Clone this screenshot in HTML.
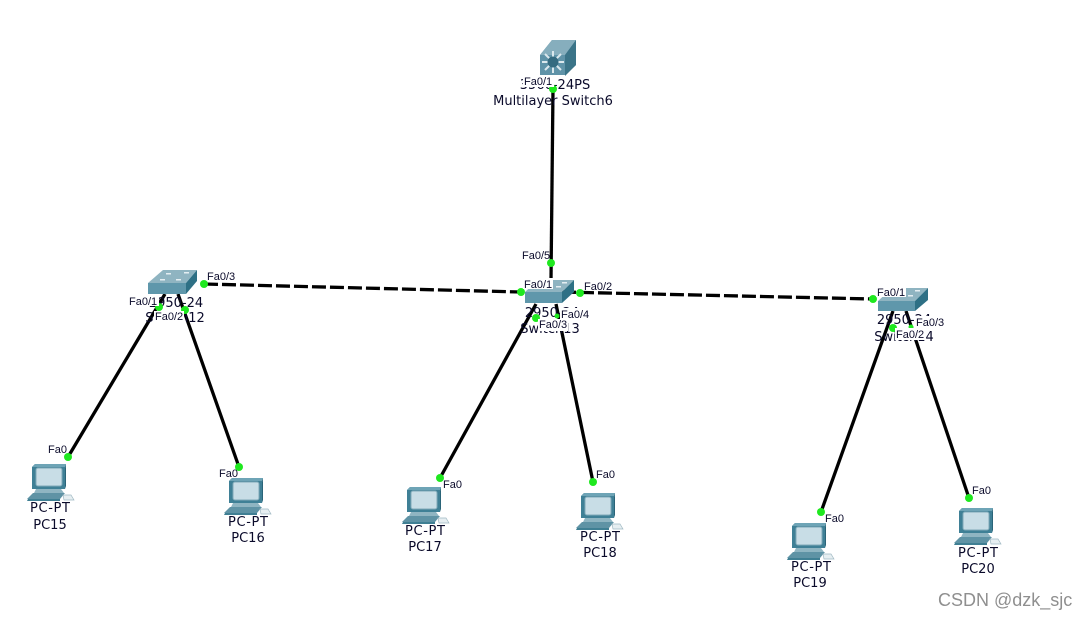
<!DOCTYPE html>
<html><head><meta charset="utf-8"><style>
html,body{margin:0;padding:0;background:#fff;width:1087px;height:620px;overflow:hidden}
svg{display:block}
text{font-family:"DejaVu Sans",sans-serif;fill:#0a0a2a}
.n{font-size:13px;text-anchor:middle}
.p{font-family:"Liberation Sans",sans-serif;font-size:11px}
</style></head><body>
<svg width="1087" height="620" viewBox="0 0 1087 620" xmlns="http://www.w3.org/2000/svg">
<defs>
<g id="pc">
<path d="M5 4L8 1H39L38 5V26H5Z" fill="#3f8096"/>
<path d="M38 5L39 1V23L38 26Z" fill="#2a6478"/>
<path d="M5 4L8 1H39L38 4Z" fill="#6ea4b6"/>
<rect x="9" y="5" width="26" height="18" rx="2" fill="#c8dde6" stroke="#7fa9b8"/>
<path d="M9 26H34L37 30H7Z" fill="#8fb5c2"/>
<path d="M0 36L6 30H38L33 36Z" fill="#5f93a5"/>
<path d="M1 36H33V38H0Z" fill="#3f7f93"/>
<path d="M36 32H44L47 37H37Z" fill="#e6eef1" stroke="#9fb8c2" stroke-width=".7"/>
</g>
</defs>

<g stroke="#000" stroke-width="3.3" fill="none">
<path d="M553 89L551 280"/>
<path d="M204 284L521 292" stroke-dasharray="14 4"/>
<path d="M562 292L873 299" stroke-dasharray="14 4"/>
<path d="M165 294L68 457"/>
<path d="M178 294L239 467"/>
<path d="M536 304L440 478"/>
<path d="M556 304L593 482"/>
<path d="M893 311L821 512"/>
<path d="M906 311L969 498"/>
</g>

<!-- multilayer switch -->
<path d="M540 55L552 40H576V65L565 75H540Z" fill="#5f93a8"/>
<path d="M540 55L552 40H576L565 55Z" fill="#86aebd"/>
<path d="M565 55L576 40V65L565 76Z" fill="#3b7488"/>
<g stroke="#dbe8ed" stroke-width="2"><path d="M553 51V73M542 62H564M545 54L561 70M561 54L545 70"/></g>
<circle cx="553" cy="62" r="5.5" fill="#356b80"/>

<!-- switches -->
<path d="M148 283L163 270H197L186 283Z" fill="#8fb4c1"/>
<path d="M148 283H186V294H148Z" fill="#5f97ab"/>
<path d="M186 283L197 270V281L186 294Z" fill="#2e7085"/>
<g fill="#e4eef2"><rect x="166" y="273" width="5" height="1.5"/><rect x="184" y="272" width="5" height="1.5"/><rect x="160" y="279" width="5" height="1.5"/><rect x="176" y="279" width="5" height="1.5"/></g>
<path d="M525 292L538 280H574L562 292Z" fill="#8fb4c1"/>
<path d="M525 292H562V303H525Z" fill="#5f97ab"/>
<path d="M562 292L574 280V292L562 303Z" fill="#2e7085"/>
<g fill="#e4eef2"><rect x="562" y="282" width="5" height="1.5"/><rect x="556" y="286" width="5" height="1.5"/></g>
<path d="M878 301L892 288H928L915 301Z" fill="#8fb4c1"/>
<path d="M878 301H915V311H878Z" fill="#5f97ab"/>
<path d="M915 301L928 288V300L915 311Z" fill="#2e7085"/>
<g fill="#e4eef2"><rect x="915" y="290" width="5" height="1.5"/><rect x="908" y="295" width="5" height="1.5"/></g>

<!-- PCs -->
<use href="#pc" x="27" y="463"/>
<use href="#pc" x="224" y="477"/>
<use href="#pc" x="402" y="486"/>
<use href="#pc" x="576" y="492"/>
<use href="#pc" x="787" y="522"/>
<use href="#pc" x="954" y="507"/>

<!-- device labels -->
<text class="n" x="555" y="89">3560-24PS</text>
<text class="n" x="553" y="105">Multilayer Switch6</text>
<text class="n" x="176" y="307">2950-24</text>
<text class="n" x="175" y="322">Switch12</text>
<text class="n" x="552" y="317">2950-24</text>
<text class="n" x="550" y="333">Switch13</text>
<text class="n" x="904" y="324">2950-24</text>
<text class="n" x="904" y="341">Switch14</text>
<text class="n" x="50" y="512" textLength="40">PC-PT</text><text class="n" x="50" y="529">PC15</text>
<text class="n" x="248" y="526" textLength="40">PC-PT</text><text class="n" x="248" y="542">PC16</text>
<text class="n" x="425" y="535" textLength="40">PC-PT</text><text class="n" x="425" y="551">PC17</text>
<text class="n" x="600" y="541" textLength="40">PC-PT</text><text class="n" x="600" y="557">PC18</text>
<text class="n" x="811" y="571" textLength="40">PC-PT</text><text class="n" x="810" y="587">PC19</text>
<text class="n" x="978" y="557" textLength="40">PC-PT</text><text class="n" x="978" y="573">PC20</text>

<!-- green dots -->
<g fill="#1fe81f">
<circle cx="553" cy="89" r="4"/><circle cx="551" cy="263" r="4"/>
<circle cx="204" cy="284" r="4"/><circle cx="521" cy="292" r="4"/>
<circle cx="580" cy="293" r="4"/><circle cx="873" cy="299" r="4"/>
<circle cx="159" cy="307" r="4"/><circle cx="185" cy="310" r="4"/>
<circle cx="536" cy="318" r="4"/><circle cx="557" cy="316" r="2.5"/>
<circle cx="893" cy="328" r="4"/><circle cx="911" cy="327" r="2.5"/>
<circle cx="68" cy="457" r="4"/><circle cx="239" cy="467" r="4"/>
<circle cx="440" cy="478" r="4"/><circle cx="593" cy="482" r="4"/>
<circle cx="821" cy="512" r="4"/><circle cx="969" cy="498" r="4"/>
</g>

<!-- port labels with white backgrounds -->
<g fill="#fff">
<rect x="523" y="76" width="31" height="11"/>
<rect x="128" y="295" width="31" height="11"/>
<rect x="154" y="311" width="30" height="12"/>
<rect x="523" y="278" width="30" height="11"/>
<rect x="538" y="319" width="30" height="12"/>
<rect x="560" y="308" width="30" height="11"/>
<rect x="876" y="286" width="30" height="11"/>
<rect x="895" y="328" width="30" height="12"/>
<rect x="915" y="316" width="30" height="11"/>
</g>
<text class="p" x="524" y="85">Fa0/1</text>
<text class="p" x="522" y="259">Fa0/5</text>
<text class="p" x="207" y="280">Fa0/3</text>
<text class="p" x="129" y="305">Fa0/1</text>
<text class="p" x="155" y="320">Fa0/2</text>
<text class="p" x="524" y="288">Fa0/1</text>
<text class="p" x="584" y="290">Fa0/2</text>
<text class="p" x="539" y="328">Fa0/3</text>
<text class="p" x="561" y="318">Fa0/4</text>
<text class="p" x="877" y="296">Fa0/1</text>
<text class="p" x="896" y="338">Fa0/2</text>
<text class="p" x="916" y="326">Fa0/3</text>
<text class="p" x="48" y="453">Fa0</text>
<text class="p" x="219" y="477">Fa0</text>
<text class="p" x="443" y="488">Fa0</text>
<text class="p" x="596" y="478">Fa0</text>
<text class="p" x="825" y="522">Fa0</text>
<text class="p" x="972" y="494">Fa0</text>

<text x="938" y="606" style="font-family:'Liberation Sans',sans-serif;font-size:18px;fill:#8f8f8f">CSDN @dzk_sjc</text>
</svg>
</body></html>
